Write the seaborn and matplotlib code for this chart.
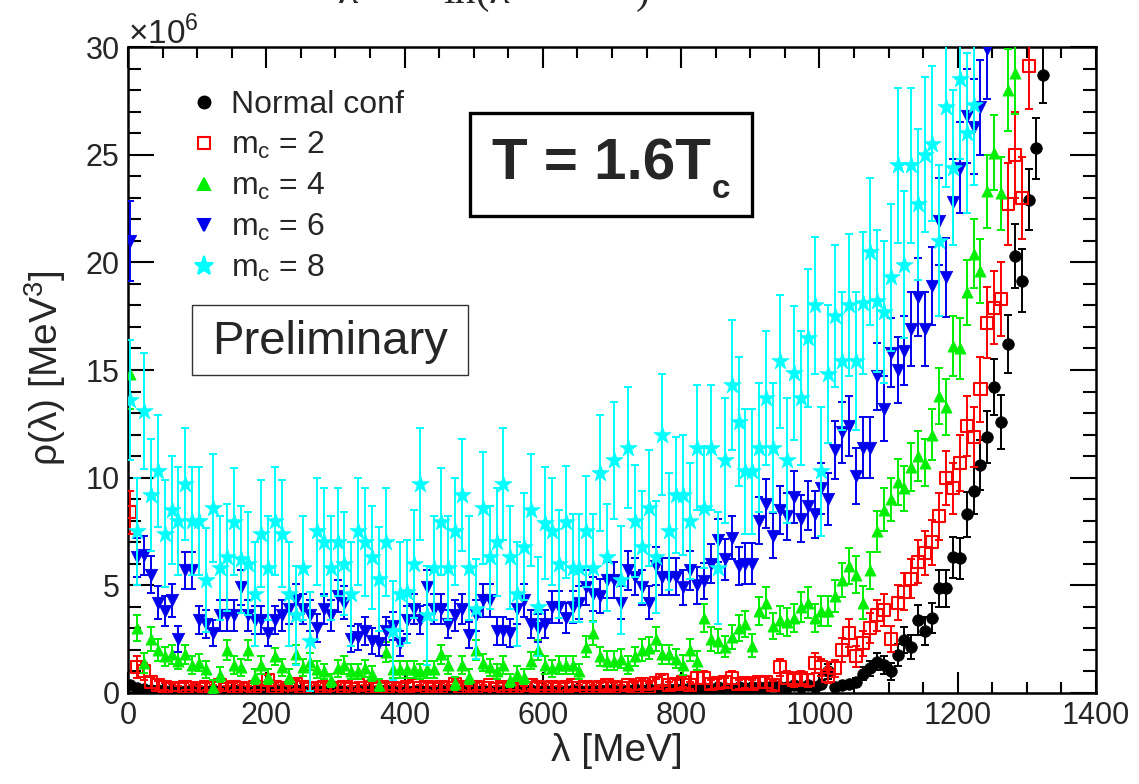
import numpy as np
import pandas as pd
import matplotlib
matplotlib.use("Agg")
import matplotlib.pyplot as plt
from matplotlib.lines import Line2D
from matplotlib.patches import Rectangle
from matplotlib.ticker import MultipleLocator
import seaborn as sns

# lambda bins [MeV], 10 MeV apart
lam = np.arange(3, 1330, 10)

# rho(lambda) in units of 1e6 MeV^3
rho_normal = [0.35, 0.25, 0.2, 0.15, 0.15, 0.1, 0.12, 0.1, 0.1, 0.12,
              0.1, 0.1, 0.12, 0.1, 0.1, 0.12, 0.1, 0.1, 0.1, 0.12,
              0.1, 0.12, 0.1, 0.1, 0.12, 0.1, 0.1, 0.12, 0.1, 0.1,
              0.12, 0.1, 0.1, 0.12, 0.1, 0.1, 0.1, 0.12, 0.1, 0.12,
              0.1, 0.1, 0.12, 0.1, 0.1, 0.12, 0.1, 0.1, 0.12, 0.1,
              0.1, 0.12, 0.1, 0.12, 0.1, 0.1, 0.12, 0.1, 0.12, 0.1,
              0.12, 0.1, 0.12, 0.1, 0.15, 0.12, 0.1, 0.15, 0.12, 0.15,
              0.15, 0.12, 0.15, 0.2, 0.15, 0.2, 0.15, 0.2, 0.2, 0.2,
              0.2, 0.25, 0.2, 0.25, 0.2, 0.3, 0.25, 0.2, 0.3, 0.25,
              0.3, 0.3, 0.3, 0.37, 0.3, 0.3, 0.35, 0.3, 0.35, 0.3,
              0.4, 1.0, 0.3, 0.35, 0.4, 0.5, 0.9, 1.15, 1.45, 1.3,
              1.0, 1.76, 2.46, 2.15, 3.4, 2.9, 3.47, 4.86, 4.86, 6.3,
              6.25, 8.3, 9.4, 10.6, 11.9, 14.2, 12.6, 16.2, 20.3, 19.15,
              22.9, 25.3, 28.7]
err_normal = [0.15, 0.1, 0.08, 0.06, 0.06, 0.05, 0.05, 0.05, 0.05, 0.05,
              0.05, 0.05, 0.05, 0.05, 0.05, 0.05, 0.05, 0.05, 0.05, 0.05,
              0.05, 0.05, 0.05, 0.05, 0.05, 0.05, 0.05, 0.05, 0.05, 0.05,
              0.05, 0.05, 0.05, 0.05, 0.05, 0.05, 0.05, 0.05, 0.05, 0.05,
              0.05, 0.05, 0.05, 0.05, 0.05, 0.05, 0.05, 0.05, 0.05, 0.05,
              0.05, 0.05, 0.05, 0.05, 0.05, 0.05, 0.05, 0.05, 0.05, 0.05,
              0.05, 0.05, 0.05, 0.05, 0.06, 0.05, 0.05, 0.06, 0.05, 0.06,
              0.06, 0.05, 0.06, 0.07, 0.06, 0.07, 0.06, 0.07, 0.07, 0.07,
              0.07, 0.08, 0.07, 0.08, 0.07, 0.09, 0.08, 0.07, 0.09, 0.08,
              0.09, 0.09, 0.09, 0.1, 0.09, 0.09, 0.1, 0.09, 0.1, 0.09,
              0.12, 0.35, 0.1, 0.12, 0.15, 0.2, 0.3, 0.35, 0.4, 0.4,
              0.4, 0.5, 0.6, 0.55, 0.7, 0.65, 0.7, 0.85, 0.85, 0.95,
              0.95, 1.05, 1.1, 1.15, 1.2, 1.3, 1.25, 1.35, 1.5, 1.45,
              1.42, 1.42, 1.28]

rho_m2 = [8.4, 1.2, 1.0, 0.5, 0.35, 0.3, 0.25, 0.2, 0.3, 0.25,
          0.2, 0.3, 0.25, 0.35, 0.2, 0.3, 0.25, 0.2, 0.3, 0.25,
          0.6, 0.3, 0.25, 0.2, 0.4, 0.3, 0.2, 0.25, 0.3, 0.2,
          0.25, 0.3, 0.2, 0.35, 0.25, 0.3, 0.2, 0.3, 0.25, 0.2,
          0.3, 0.35, 0.25, 0.3, 0.2, 0.3, 0.25, 0.4, 0.3, 0.2,
          0.3, 0.25, 0.35, 0.2, 0.3, 0.25, 0.3, 0.2, 0.35, 0.3,
          0.25, 0.3, 0.2, 0.3, 0.35, 0.25, 0.3, 0.25, 0.3, 0.35,
          0.3, 0.25, 0.35, 0.3, 0.4, 0.3, 0.45, 0.6, 0.35, 0.4,
          0.5, 0.35, 0.7, 0.7, 0.4, 0.45, 0.5, 0.7, 0.4, 0.45,
          0.4, 0.5, 0.5, 0.35, 1.2, 0.7, 0.6, 0.7, 0.6, 1.4,
          1.2, 0.8, 1.15, 2.0, 2.8, 1.7, 2.3, 3.0, 3.6, 3.85,
          2.5, 4.2, 4.7, 5.3, 6.1, 6.5, 7.0, 8.2, 10.0, 9.5,
          10.7, 12.4, 11.9, 14.1, 17.2, 17.9, 18.3, 22.7, 25.0, 23.0,
          29.1]
err_m2 = [1.0, 0.5, 0.4, 0.25, 0.2, 0.15, 0.15, 0.12, 0.15, 0.12,
          0.12, 0.15, 0.12, 0.15, 0.12, 0.15, 0.12, 0.12, 0.15, 0.12,
          0.25, 0.15, 0.12, 0.12, 0.2, 0.15, 0.12, 0.12, 0.15, 0.12,
          0.12, 0.15, 0.12, 0.15, 0.12, 0.15, 0.12, 0.15, 0.12, 0.12,
          0.15, 0.15, 0.12, 0.15, 0.12, 0.15, 0.12, 0.2, 0.15, 0.12,
          0.15, 0.12, 0.15, 0.12, 0.15, 0.12, 0.15, 0.12, 0.15, 0.15,
          0.12, 0.15, 0.12, 0.15, 0.15, 0.12, 0.15, 0.12, 0.15, 0.15,
          0.15, 0.12, 0.15, 0.15, 0.2, 0.15, 0.2, 0.25, 0.15, 0.2,
          0.2, 0.15, 0.3, 0.3, 0.2, 0.2, 0.2, 0.3, 0.2, 0.2,
          0.2, 0.25, 0.25, 0.2, 0.4, 0.3, 0.3, 0.3, 0.3, 0.45,
          0.4, 0.35, 0.4, 0.55, 0.65, 0.5, 0.6, 0.7, 0.7, 0.75,
          0.6, 0.8, 0.85, 0.9, 1.0, 1.0, 1.05, 1.1, 1.25, 1.2,
          1.3, 1.4, 1.4, 1.5, 1.65, 1.7, 1.7, 1.9, 2.0, 1.9,
          2.0]

rho_m4 = [14.8, 3.0, 1.4, 2.5, 2.0, 1.7, 1.8, 1.5, 1.8, 1.3,
          1.4, 1.1, 0.3, 0.84, 2.0, 1.3, 1.2, 2.0, 0.76, 1.3,
          0.76, 1.7, 1.2, 0.76, 1.8, 1.2, 1.45, 1.1, 1.0, 0.6,
          1.15, 1.3, 1.0, 1.0, 1.15, 0.9, 0.37, 1.9, 1.1, 1.1,
          1.1, 1.1, 1.0, 1.1, 1.1, 1.8, 1.3, 0.45, 1.3, 0.76,
          2.0, 1.4, 1.2, 1.0, 1.3, 0.6, 0.9, 0.76, 1.5, 2.0,
          1.3, 1.15, 1.3, 1.3, 1.3, 1.0, 2.15, 2.8, 1.7, 1.5,
          1.5, 1.6, 1.3, 1.7, 2.0, 2.1, 2.5, 1.8, 1.8, 1.6,
          1.3, 2.0, 1.5, 3.5, 2.5, 2.4, 2.15, 2.6, 3.0, 3.2,
          2.2, 3.8, 4.2, 3.1, 3.4, 3.3, 3.5, 4.0, 4.2, 3.5,
          3.8, 3.8, 4.5, 5.25, 5.9, 5.5, 4.2, 5.7, 7.5, 8.5,
          9.0, 9.8, 9.5, 10.5, 11.0, 10.7, 12.0, 13.8, 13.3, 16.1,
          16.0, 18.6, 20.4, 19.6, 23.3, 25.1, 23.2, 28.0, 28.8]
err_m4 = [1.6, 0.6, 0.45, 0.55, 0.5, 0.45, 0.45, 0.4, 0.45, 0.4,
          0.4, 0.4, 0.3, 0.35, 0.45, 0.4, 0.4, 0.45, 0.35, 0.4,
          0.35, 0.4, 0.4, 0.35, 0.45, 0.4, 0.4, 0.4, 0.35, 0.3,
          0.4, 0.4, 0.35, 0.35, 0.4, 0.35, 0.3, 0.45, 0.4, 0.4,
          0.4, 0.4, 0.35, 0.4, 0.4, 0.45, 0.4, 0.3, 0.4, 0.35,
          0.45, 0.4, 0.4, 0.35, 0.4, 0.3, 0.35, 0.35, 0.4, 0.45,
          0.4, 0.4, 0.4, 0.4, 0.4, 0.35, 0.5, 0.55, 0.45, 0.45,
          0.45, 0.45, 0.4, 0.45, 0.5, 0.5, 0.55, 0.45, 0.45, 0.45,
          0.45, 0.5, 0.45, 0.65, 0.55, 0.55, 0.5, 0.55, 0.6, 0.6,
          0.55, 0.65, 0.7, 0.6, 0.65, 0.65, 0.65, 0.7, 0.7, 0.65,
          0.7, 0.7, 0.75, 0.8, 0.85, 0.85, 0.75, 0.85, 0.95, 1.0,
          1.0, 1.05, 1.05, 1.1, 1.15, 1.1, 1.2, 1.3, 1.3, 1.4,
          1.4, 1.5, 1.6, 1.5, 1.7, 1.75, 1.7, 1.9, 1.9]

rho_m6 = [21.0, 6.3, 6.4, 5.5, 4.2, 3.8, 4.3, 2.5, 5.7, 5.7,
          3.4, 3.2, 2.8, 3.6, 3.6, 3.6, 4.9, 3.6, 3.4, 3.4,
          2.8, 3.4, 3.6, 3.9, 4.3, 3.9, 3.6, 3.0, 3.9, 3.6,
          4.5, 4.2, 2.5, 2.6, 2.9, 2.4, 2.3, 2.9, 3.1, 2.3,
          3.4, 3.9, 3.4, 4.9, 3.9, 3.9, 3.2, 3.6, 3.9, 2.7,
          3.6, 4.3, 4.3, 2.9, 2.9, 2.8, 3.9, 4.3, 3.2, 3.0,
          3.2, 4.0, 4.0, 3.5, 4.0, 4.2, 4.9, 4.6, 4.5, 5.25,
          5.25, 4.2, 5.7, 5.4, 4.9, 4.2, 5.9, 5.4, 5.4, 5.4,
          4.9, 5.7, 5.0, 5.2, 6.0, 7.1, 6.2, 7.2, 5.9, 6.0,
          6.0, 8.0, 8.8, 7.3, 8.5, 8.2, 9.1, 8.1, 8.7, 8.3,
          9.5, 9.0, 11.3, 12.1, 12.4, 10.1, 11.4, 11.4, 14.7, 13.2,
          15.8, 15.0, 15.9, 16.9, 18.4, 16.9, 18.9, 21.9, 19.3, 22.8,
          24.4, 26.8, 26.3, 27.2, 29.9]
err_m6 = [1.85, 0.9, 0.9, 0.85, 0.75, 0.7, 0.75, 0.6, 0.85, 0.85,
          0.65, 0.65, 0.6, 0.7, 0.7, 0.7, 0.8, 0.7, 0.65, 0.65,
          0.6, 0.65, 0.7, 0.7, 0.75, 0.7, 0.7, 0.65, 0.7, 0.7,
          0.75, 0.75, 0.6, 0.6, 0.65, 0.6, 0.6, 0.65, 0.65, 0.6,
          0.65, 0.7, 0.65, 0.8, 0.7, 0.7, 0.65, 0.7, 0.7, 0.6,
          0.7, 0.75, 0.75, 0.65, 0.65, 0.65, 0.7, 0.75, 0.65, 0.65,
          0.65, 0.75, 0.75, 0.7, 0.75, 0.75, 0.8, 0.8, 0.8, 0.85,
          0.85, 0.75, 0.9, 0.85, 0.8, 0.75, 0.9, 0.85, 0.85, 0.85,
          0.8, 0.9, 0.85, 0.85, 0.9, 1.0, 0.95, 1.0, 0.9, 0.95,
          0.95, 1.1, 1.15, 1.05, 1.1, 1.1, 1.2, 1.1, 1.15, 1.1,
          1.2, 1.2, 1.35, 1.4, 1.4, 1.3, 1.4, 1.4, 1.55, 1.5,
          1.6, 1.55, 1.6, 1.7, 1.8, 1.7, 1.8, 2.0, 1.85, 2.0,
          2.1, 2.2, 2.2, 2.2, 2.3]

rho_m8 = [13.6, 7.5, 13.1, 9.2, 10.3, 7.4, 8.5, 8.0, 9.7, 8.0,
          8.0, 5.25, 8.6, 5.8, 6.3, 7.96, 6.2, 6.0, 4.6, 7.4,
          5.8, 8.0, 7.4, 4.6, 3.6, 5.8, 2.4, 7.5, 7.0, 5.8,
          7.0, 6.0, 4.6, 7.5, 7.0, 6.3, 5.3, 7.0, 2.9, 4.6,
          4.7, 6.0, 9.7, 3.6, 5.8, 7.96, 5.8, 7.5, 9.2, 5.8,
          3.9, 8.6, 6.3, 7.0, 9.7, 6.3, 4.6, 6.8, 8.5, 4.0,
          7.9, 7.5, 6.0, 7.96, 5.8, 5.8, 7.5, 5.8, 10.2, 6.3,
          10.8, 5.25, 11.4, 8.0, 6.8, 8.6, 6.3, 12.0, 7.5, 9.2,
          9.2, 8.0, 11.4, 8.6, 11.4, 5.8, 10.8, 14.3, 12.6, 10.3,
          10.3, 11.4, 13.7, 11.4, 15.4, 10.8, 14.85, 13.7, 16.5, 18.0,
          10.3, 14.8, 17.5, 15.4, 18.0, 15.4, 18.1, 20.5, 18.2, 17.7,
          19.3, 24.5, 19.9, 24.5, 22.7, 25.0, 25.5, 21.0, 27.2, 24.4,
          28.5, 26.0, 27.3]
err_m8 = [2.8, 2.5, 2.7, 2.6, 2.6, 2.5, 2.5, 2.5, 2.6, 2.5,
          2.5, 2.4, 2.5, 2.4, 2.5, 2.5, 2.5, 2.4, 2.4, 2.5,
          2.4, 2.5, 2.5, 2.4, 2.3, 2.4, 2.3, 2.5, 2.5, 2.4,
          2.5, 2.4, 2.4, 2.5, 2.5, 2.4, 2.4, 2.5, 2.3, 2.4,
          2.4, 2.5, 2.6, 2.3, 2.4, 2.5, 2.4, 2.5, 2.6, 2.4,
          2.3, 2.6, 2.4, 2.5, 2.6, 2.4, 2.4, 2.5, 2.6, 2.3,
          2.6, 2.5, 2.5, 2.6, 2.5, 2.5, 2.6, 2.5, 2.7, 2.5,
          2.7, 2.5, 2.8, 2.6, 2.6, 2.7, 2.6, 2.8, 2.7, 2.7,
          2.8, 2.7, 2.9, 2.8, 2.9, 2.6, 2.9, 3.0, 3.0, 2.9,
          2.9, 3.0, 3.1, 3.0, 3.1, 2.9, 3.1, 3.1, 3.2, 3.2,
          3.0, 3.2, 3.3, 3.2, 3.3, 3.2, 3.3, 3.4, 3.3, 3.3,
          3.4, 3.6, 3.4, 3.6, 3.5, 3.6, 3.6, 3.5, 3.7, 3.6,
          3.7, 3.7, 3.7]

labels = ["Normal conf", "m$_\\mathregular{c}$ = 2", "m$_\\mathregular{c}$ = 4",
          "m$_\\mathregular{c}$ = 6", "m$_\\mathregular{c}$ = 8"]
colors = ["black", "#ff0000", "#00ee00", "#0000ee", "#00ffff"]
markers = ["o", "s", "^", "v", "*"]
sizes = [70, 75, 65, 80, 170]

sns.set_style("ticks")
plt.rcParams["font.family"] = ["Liberation Sans", "DejaVu Sans"]
plt.rcParams["mathtext.fontset"] = "custom"
plt.rcParams["mathtext.rm"] = "Liberation Sans"

fig, ax = plt.subplots(figsize=(11.39, 7.84), dpi=100)
fig.subplots_adjust(left=0.1124, right=0.9622, top=0.940, bottom=0.1161)

data = [(rho_normal, err_normal), (rho_m2, err_m2), (rho_m4, err_m4),
        (rho_m6, err_m6), (rho_m8, err_m8)]

for i, (rho, err) in enumerate(data):
    n = len(rho)
    df = pd.DataFrame({"lam": lam[:n], "rho": rho, "err": err})
    col = colors[i]
    ax.errorbar(df["lam"], df["rho"], yerr=df["err"], fmt="none", ecolor=col,
                elinewidth=1.4, capsize=3.2, capthick=1.4, zorder=2 + 2 * i)
    if markers[i] == "s":
        sns.scatterplot(data=df, x="lam", y="rho", marker="s", s=sizes[i],
                        facecolor="none", edgecolor=col, linewidth=1.5,
                        ax=ax, zorder=3 + 2 * i)
    else:
        sns.scatterplot(data=df, x="lam", y="rho", marker=markers[i], s=sizes[i],
                        color=col, edgecolor=col, linewidth=0.5,
                        ax=ax, zorder=3 + 2 * i)

ax.set_xlim(0, 1400)
ax.set_ylim(0, 30)
ax.xaxis.set_major_locator(MultipleLocator(200))
ax.xaxis.set_minor_locator(MultipleLocator(50))
ax.yaxis.set_major_locator(MultipleLocator(5))
ax.yaxis.set_minor_locator(MultipleLocator(1))
ax.tick_params(which="both", direction="in", top=True, right=True,
               width=1.5, labelsize=22, color="black")
ax.tick_params(axis="x", which="major", length=15, pad=6)
ax.tick_params(axis="x", which="minor", length=8)
ax.tick_params(axis="y", which="major", length=19, pad=6)
ax.tick_params(axis="y", which="minor", length=9.5)
for sp in ax.spines.values():
    sp.set_linewidth(1.8)
    sp.set_color("black")

ax.set_xlabel("λ [MeV]", fontsize=28)
ax.set_ylabel("ρ(λ) [MeV$^\\mathregular{3}$]", fontsize=28)
ax.xaxis.set_label_coords(0.505, -0.062)
ax.yaxis.set_label_coords(-0.062, 0.503)

fig.text(128 / 1139, 1 - 44 / 784, "×10$^\\mathregular{6}$", fontsize=24,
         ha="left", va="baseline")

# formula fragment cut off by the top edge, as in the original
serif = ["Liberation Serif", "DejaVu Serif"]
fig.text(338 / 1139, 1 - 3 / 784, "λ", family=serif, fontsize=30, va="baseline")
fig.text(443 / 1139, 1 - 3 / 784, "ln(λ", family=serif, fontsize=30, va="baseline")
fig.text(636 / 1139, 1 - 3 / 784, ")", family=serif, fontsize=30, va="baseline")

handles = []
for i in range(5):
    mfc = "none" if markers[i] == "s" else colors[i]
    ms = 14 if markers[i] == "*" else 8.5
    handles.append(Line2D([], [], ls="none", marker=markers[i], markersize=ms,
                          color=colors[i], mfc=mfc, mew=1.5))
ax.legend(handles, labels, loc="upper left", bbox_to_anchor=(0.065, 0.933),
          frameon=False, fontsize=23, handlelength=0.8, handletextpad=0.45,
          labelspacing=0.3, borderaxespad=0, borderpad=0)

# "T = 1.6Tc" box
ax.add_patch(Rectangle((0.353, 0.738), 0.292, 0.160, transform=ax.transAxes,
                       facecolor="white", edgecolor="black", lw=2.4, zorder=20))
ax.text(0.376, 0.7957, "T = 1.6T", transform=ax.transAxes, fontsize=42,
        fontweight="bold", ha="left", va="baseline", zorder=21)
ax.text(0.603, 0.766, "c", transform=ax.transAxes, fontsize=24,
        fontweight="bold", ha="left", va="baseline", zorder=21)

# "Preliminary" box
ax.add_patch(Rectangle((0.0661, 0.4923), 0.285, 0.1083, transform=ax.transAxes,
                       facecolor="white", edgecolor="#333333", lw=1.0, zorder=20))
ax.text(0.2087, 0.5433, "Preliminary", transform=ax.transAxes, fontsize=34,
        ha="center", va="center", zorder=21)

fig.savefig("out.png", dpi=100)
